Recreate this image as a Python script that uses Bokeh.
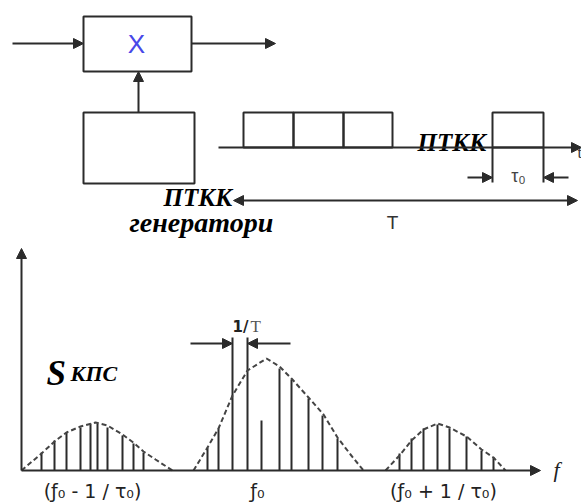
from bokeh.plotting import figure
from bokeh.layouts import column
from bokeh.models import Arrow, NormalHead, Range1d, ColumnDataSource
from bokeh.core.properties import value
from bokeh.embed import file_html
from bokeh.resources import INLINE

INK = "#2b2b2b"
SERIF = value("Liberation Serif")
SANS = value("Liberation Sans")

# ---------------- spectrum of the modulated pulse train ----------------
# line frequencies (diagram units) and line amplitudes above the f axis
lower_f = [41, 54, 66, 80, 90, 97, 107, 122, 133, 143]
lower_amp = [18, 30, 38, 43, 47, 47, 43, 35, 27, 18]
center_f = [207, 218, 232, 247, 261, 279, 291, 308, 322, 337]
center_amp = [23, 42, 133, 133, 50, 102, 91, 72, 55, 32]
upper_f = [399, 411, 423, 437, 449, 466, 481, 493]
upper_amp = [17, 32, 42, 46, 42, 34, 20, 13]

# dashed envelopes of the three lobes
lower_env_f = [21, 41, 54, 66, 80, 95, 107, 122, 134, 143, 155, 172]
lower_env_amp = [0, 17, 29, 38, 44, 48, 45, 36, 27, 19, 11, 0]
center_env_f = [193, 207, 218, 232, 247, 266, 279, 291, 308, 323, 337, 350, 363]
center_env_amp = [0, 23, 42, 75, 100, 112, 104, 92, 73, 56, 33, 16, 0]
upper_env_f = [385, 399, 411, 423, 437, 449, 466, 481, 493, 505]
upper_env_amp = [0, 15, 30, 41, 47, 43, 34, 21, 13, 0]

band_labels = ["(ƒ₀ - 1 / τ₀)", "ƒ₀", "(ƒ₀ + 1 / τ₀)"]
band_label_f = [92, 257, 443]

# ---------------- block diagram layout (screen units, y downwards) ----------------
MIX_BOX = dict(left=83, right=191, top=16, bottom=71)
GEN_BOX = dict(left=83, right=194, top=112, bottom=183)
SIGNAL_Y = 43
pulse_left = [243, 293, 343, 492]
pulse_right = [293, 343, 392, 543]
PULSE_TOP = 112
TIME_AXIS_Y = 147

TOP_H = 240
SPEC_H = 502 - TOP_H


def head():
    return NormalHead(size=10, fill_color=INK, line_color=INK, line_width=1)


def arrow(p, x0, y0, x1, y1, both=False):
    p.add_layout(Arrow(x_start=x0, y_start=y0, x_end=x1, y_end=y1,
                       end=head(), start=head() if both else None,
                       line_color=INK, line_width=2))


def bare(width, height, xr, yr):
    f = figure(width=width, height=height, x_range=xr, y_range=yr,
               x_axis_type=None, y_axis_type=None, toolbar_location=None,
               output_backend="svg", min_border=0)
    f.grid.visible = False
    f.outline_line_color = None
    f.background_fill_color = "white"
    f.border_fill_color = "white"
    return f


# ---------- top: multiplier, PTKK generator and the pulse train ----------
top = bare(581, TOP_H, Range1d(0, 581), Range1d(TOP_H, 0))

for box in (MIX_BOX, GEN_BOX):
    top.quad(fill_color=None, line_color=INK, line_width=2, **box)

arrow(top, 12, SIGNAL_Y, MIX_BOX["left"], SIGNAL_Y)
arrow(top, MIX_BOX["right"], SIGNAL_Y, 275, SIGNAL_Y)
arrow(top, 138, GEN_BOX["top"], 138, MIX_BOX["bottom"])

top.text(x=[136], y=[SIGNAL_Y], text=["X"], text_font=SANS,
         text_font_size="26px", text_color="#4848e8",
         text_align="center", text_baseline="middle")

pulses = ColumnDataSource(dict(left=pulse_left, right=pulse_right,
                               top=[PULSE_TOP] * len(pulse_left),
                               bottom=[TIME_AXIS_Y] * len(pulse_left)))
top.quad(left="left", right="right", top="top", bottom="bottom", source=pulses,
         fill_color=None, line_color=INK, line_width=2)
arrow(top, 218, TIME_AXIS_Y, 581, TIME_AXIS_Y)
top.segment(x0=[492, 543], y0=[TIME_AXIS_Y] * 2, x1=[492, 543], y1=[182] * 2,
            line_color=INK, line_width=2)
arrow(top, 467, 177, 492, 177)
arrow(top, 568, 177, 543, 177)
arrow(top, 233, 200, 577, 200, both=True)

top.text(x=[518], y=[175], text=["τ₀"], text_font=SANS, text_font_size="18px",
         text_color="#444444", text_align="center", text_baseline="middle")
top.text(x=[392], y=[222], text=["T"], text_font=SANS, text_font_size="19px",
         text_color="#333333", text_align="center", text_baseline="alphabetic")
top.text(x=[577], y=[152], text=["t"], text_font=SERIF, text_font_size="16px",
         text_color="#333333", text_align="left", text_baseline="alphabetic")

top.text(x=[163, 417], y=[197, 142], text=["ПТКК", "ПТКК"], text_font=SERIF,
         text_font_style="bold italic", text_font_size="25px", text_color="black",
         text_align="left", text_baseline="alphabetic")
top.text(x=[129], y=[222], text=["генератори"], text_font=SERIF,
         text_font_style="bold italic", text_font_size="28px", text_color="black",
         text_align="left", text_baseline="alphabetic")

# ---------- bottom: line spectrum S_KPS(f) ----------
AMP_TOP = 470 - TOP_H
spec = bare(581, SPEC_H, Range1d(0, 581), Range1d(AMP_TOP - SPEC_H, AMP_TOP))

arrow(spec, 21, 0, 21, 222)
arrow(spec, 21, 0, 540, 0)

for fs, amps in ((lower_f, lower_amp), (center_f, center_amp), (upper_f, upper_amp)):
    src = ColumnDataSource(dict(f=fs, amp=amps, zero=[0] * len(fs)))
    spec.segment(x0="f", y0="zero", x1="f", y1="amp", source=src,
                 line_color=INK, line_width=2)

for fs, amps in ((lower_env_f, lower_env_amp), (center_env_f, center_env_amp),
                 (upper_env_f, upper_env_amp)):
    spec.line(fs, amps, line_color="#444444", line_width=2, line_dash="5 3")

# 1/T spacing marker between two neighbouring lines
arrow(spec, 190, 127, center_f[2], 127)
arrow(spec, 290, 127, center_f[3], 127)
spec.text(x=[248], y=[144], text=["1/"], text_font=value("DejaVu Sans"),
          text_font_style="bold", text_font_size="15px", text_color="#222222",
          text_align="right", text_baseline="alphabetic")
spec.text(x=[250], y=[144], text=["T"], text_font=SERIF, text_font_size="17px",
          text_color="#555555", text_align="left", text_baseline="alphabetic")

spec.text(x=[46], y=[97], text=["S"], text_font=SERIF, text_font_style="bold italic",
          text_font_size="35px", text_color="black", text_align="left",
          text_baseline="alphabetic")
spec.text(x=[70], y=[97], text=["КПС"], text_font=SERIF, text_font_style="bold italic",
          text_font_size="22px", text_color="black", text_align="left",
          text_baseline="alphabetic")

spec.text(x=band_label_f, y=[-20] * 3, text=band_labels, text_font=value("DejaVu Sans"),
          text_font_size="19px", text_color="#222222", text_align="center",
          text_baseline="middle")
spec.text(x=[556], y=[1], text=["f"], text_font=SERIF, text_font_style="italic",
          text_font_size="22px", text_color="#222222", text_align="center",
          text_baseline="middle")

layout = column(top, spec, spacing=0)
open("out.html", "w").write(file_html(layout, INLINE))
